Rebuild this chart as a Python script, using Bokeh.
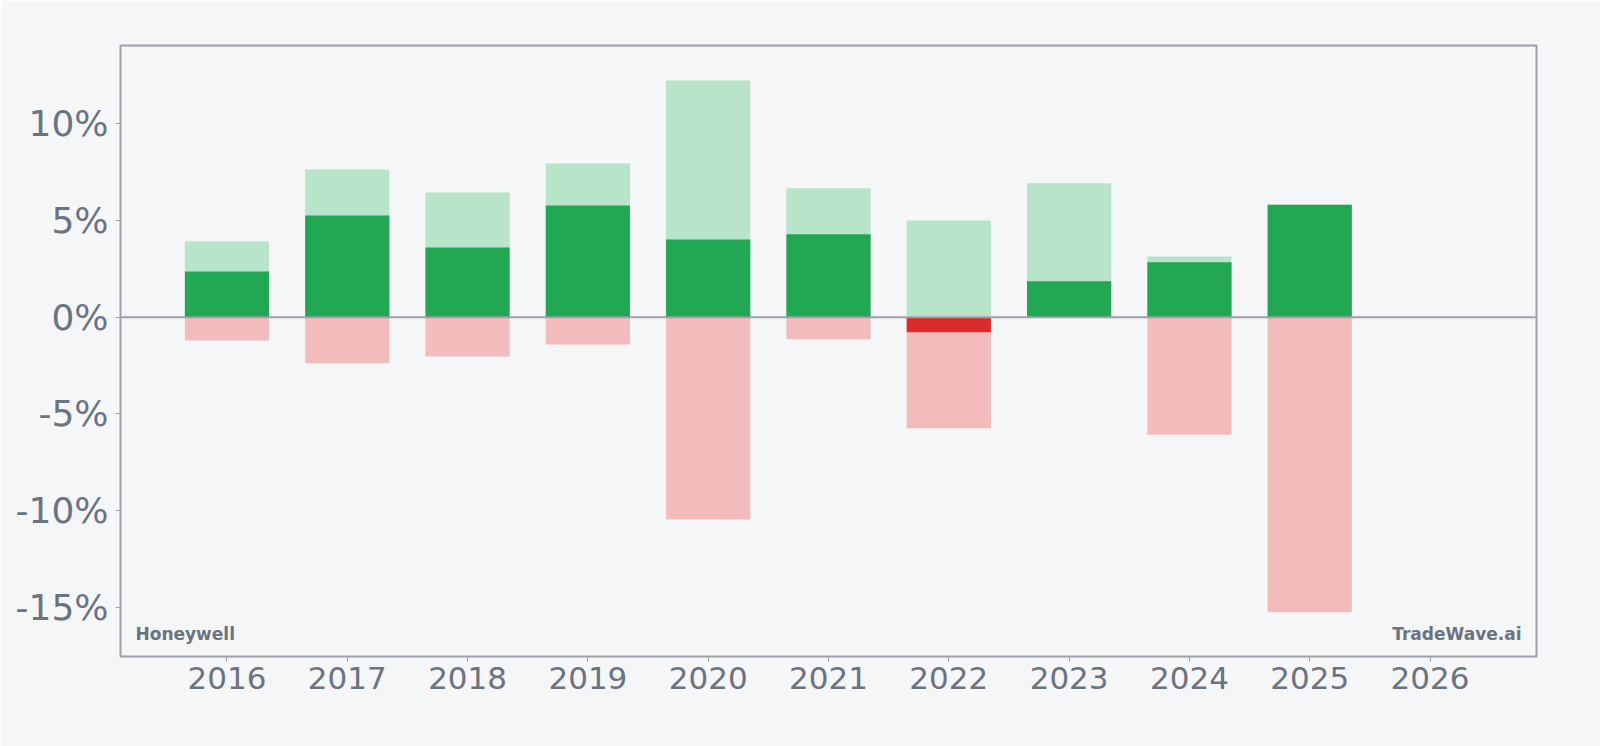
from bokeh.plotting import figure
from bokeh.models import Span, Label, FixedTicker, PrintfTickFormatter, Range1d, ColumnDataSource
from bokeh.embed import file_html
from bokeh.resources import INLINE

# ---- data (percent) ----
years = [2016, 2017, 2018, 2019, 2020, 2021, 2022, 2023, 2024, 2025]
annual_return = [2.36, 5.26, 3.60, 5.78, 4.02, 4.29, -0.78, 1.86, 2.84, 5.81]
max_gain = [3.93, 7.64, 6.45, 7.95, 12.24, 6.67, 5.00, 6.93, 3.14, 5.81]
max_drawdown = [-1.20, -2.38, -2.03, -1.41, -10.46, -1.14, -5.74, 0.0, -6.07, -15.25]
x_ticks = [2016, 2017, 2018, 2019, 2020, 2021, 2022, 2023, 2024, 2025, 2026]
y_ticks = [-15, -10, -5, 0, 5, 10]

BG = "#f4f6f8"
GRAY = "#9ca0ab"
TXT = "#6b7280"
FONT = "DejaVu Sans"

pos_ret = [r if r > 0 else 0 for r in annual_return]
neg_ret = [r if r < 0 else 0 for r in annual_return]
src = ColumnDataSource(dict(x=years, ret_pos=pos_ret, ret_neg=neg_ret,
                            up=max_gain, down=max_drawdown))

x0, x1 = 2015.115, 2026.885
y0, y1 = -17.54, 14.05

p = figure(width=1600, height=746, output_backend="svg", toolbar_location=None,
           x_range=Range1d(x0, x1), y_range=Range1d(y0, y1),
           min_border_left=120, min_border_right=64, min_border_top=45, min_border_bottom=90)
p.background_fill_color = BG
p.border_fill_color = BG
p.outline_line_color = GRAY
p.outline_line_width = 2
p.grid.visible = False

w = 0.7
p.vbar(x="x", width=w, bottom=0, top="up", source=src, fill_color="#b8e4ca", line_color=None)
p.vbar(x="x", width=w, bottom=0, top="down", source=src, fill_color="#f2bcbc", line_color=None)
p.vbar(x="x", width=w, bottom=0, top="ret_pos", source=src, fill_color="#22a853", line_color=None)
p.vbar(x="x", width=w, bottom=0, top="ret_neg", source=src, fill_color="#dc2b2b", line_color=None)

p.add_layout(Span(location=0, dimension="width", line_color=GRAY, line_width=2))

p.xaxis.ticker = FixedTicker(ticks=x_ticks)
p.yaxis.ticker = FixedTicker(ticks=y_ticks)
p.yaxis.formatter = PrintfTickFormatter(format="%d%%")
for ax in (p.xaxis, p.yaxis):
    ax.axis_line_color = None
    ax.major_tick_line_color = GRAY
    ax.major_tick_out = 5
    ax.major_tick_in = 0
    ax.minor_tick_line_color = None
    ax.major_label_text_color = TXT
    ax.major_label_text_font = FONT
p.xaxis.major_label_text_font_size = "31px"
p.yaxis.major_label_text_font_size = "36px"
p.yaxis.major_label_standoff = 7
p.xaxis.major_label_standoff = 5

px_per_x = (1536 - 120) / (x1 - x0)
px_per_y = (656 - 45) / (y1 - y0)
p.add_layout(Label(x=x0 + 15 / px_per_x, y=y0 + 23 / px_per_y, text="Honeywell",
                   text_font=FONT, text_font_style="bold", text_font_size="17px",
                   text_color=TXT, text_align="left", text_baseline="alphabetic"))
p.add_layout(Label(x=x1 - 15 / px_per_x, y=y0 + 23 / px_per_y, text="TradeWave.ai",
                   text_font=FONT, text_font_style="bold", text_font_size="17px",
                   text_color=TXT, text_align="right", text_baseline="alphabetic"))

open("out.html", "w").write(file_html(p, INLINE))
